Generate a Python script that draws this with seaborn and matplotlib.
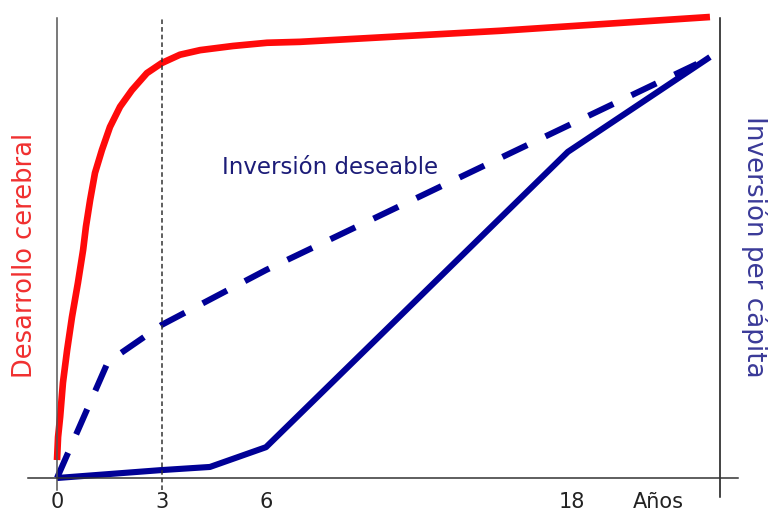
import numpy as np
import matplotlib
matplotlib.use("Agg")
import matplotlib.pyplot as plt
import seaborn as sns

# años / nivel relativo (0-100)
brain_years = [0, 0.03, 0.09, 0.17, 0.29, 0.43, 0.60, 0.75, 0.83, 0.95, 1.09, 1.29, 1.52,
               1.81, 2.15, 2.58, 3.01, 3.53, 4.11, 5.05, 6.04, 7.33, 15.18, 23.41]
brain_level = [3.9, 8.9, 13.3, 20.7, 27.8, 35.0, 42.4, 49.6, 54.6, 60.4, 66.3, 71.3, 76.3,
               80.7, 84.3, 88.0, 90.2, 92.0, 93.0, 93.9, 94.6, 94.8, 97.2, 100.2]

actual_years = [0, 2.96, 4.39, 6.0, 17.84, 23.41]
actual_inv = [0, 1.7, 2.4, 6.7, 70.9, 91.5]

desired_years = [0, 1.46, 3.01, 6.0, 22.9]
desired_inv = [0, 25.2, 33.3, 45.2, 90.0]

tick_years = [0, 3, 6, 18, 21.4]
tick_labels = ["0", "3", "6", "18", "Años"]

sns.set_style("white")
plt.rcParams["font.family"] = ["DejaVu Sans"]


def fwd(x):
    x = np.asarray(x, dtype=float)
    return np.where(x <= 6, x, 6 + (x - 6) * 0.7321)


def inv(y):
    y = np.asarray(y, dtype=float)
    return np.where(y <= 6, y, 6 + (y - 6) / 0.7321)


fig = plt.figure(figsize=(7.68, 5.19), dpi=100)
ax = fig.add_axes([28 / 768, 22 / 519, 710 / 768, 480 / 519])
ax.set_xscale("function", functions=(fwd, inv))

sns.lineplot(x=brain_years, y=brain_level, ax=ax, color="#ff0a0a", lw=4.8,
             sort=False, clip_on=False, solid_capstyle="butt")
sns.lineplot(x=desired_years, y=desired_inv, ax=ax, color="#000096", lw=4.4,
             sort=False, linestyle=(0, (4.5, 3.3)))
sns.lineplot(x=actual_years, y=actual_inv, ax=ax, color="#000096", lw=4.4,
             sort=False, solid_capstyle="butt")

ax.vlines(3, -2.6, 100, colors="#333333", linestyles=(0, (3, 2)), lw=1.1)

ax.set_xlim(-0.833, 24.51)
ax.set_ylim(-4.13, 100.2)

ax.spines["top"].set_visible(False)
ax.spines["bottom"].set_position(("data", 0))
ax.spines["bottom"].set_color("#333333")
ax.spines["left"].set_position(("data", 0))
ax.spines["left"].set_bounds(-2.6, 100)
ax.spines["left"].set_color("#555555")
ax.spines["right"].set_position(("data", 23.8))
ax.spines["right"].set_bounds(-4.13, 100)
ax.spines["right"].set_color("#111111")
for s in ax.spines.values():
    s.set_linewidth(1.1)

ax.set_yticks([])
ax.set_xticks(tick_years)
ax.set_xticklabels(tick_labels)
ax.xaxis.set_minor_locator(matplotlib.ticker.NullLocator())
ax.tick_params(axis="x", length=0, pad=10, labelsize=15, colors="#222222")
ax.set_xlabel("")
ax.set_ylabel("")

ax.text(4.74, 67.4, "Inversión deseable", color="#1c1c78", fontsize=16.5,
        ha="left", va="center")
fig.text(25 / 768, (519 - 255) / 519, "Desarrollo cerebral", color="#f03030",
         fontsize=18.5, rotation=90, ha="center", va="center")
fig.text(755 / 768, (519 - 247) / 519, "Inversión per cápita", color="#3a3a98",
         fontsize=18.8, rotation=270, ha="center", va="center")

fig.savefig("out.png", dpi=100)
